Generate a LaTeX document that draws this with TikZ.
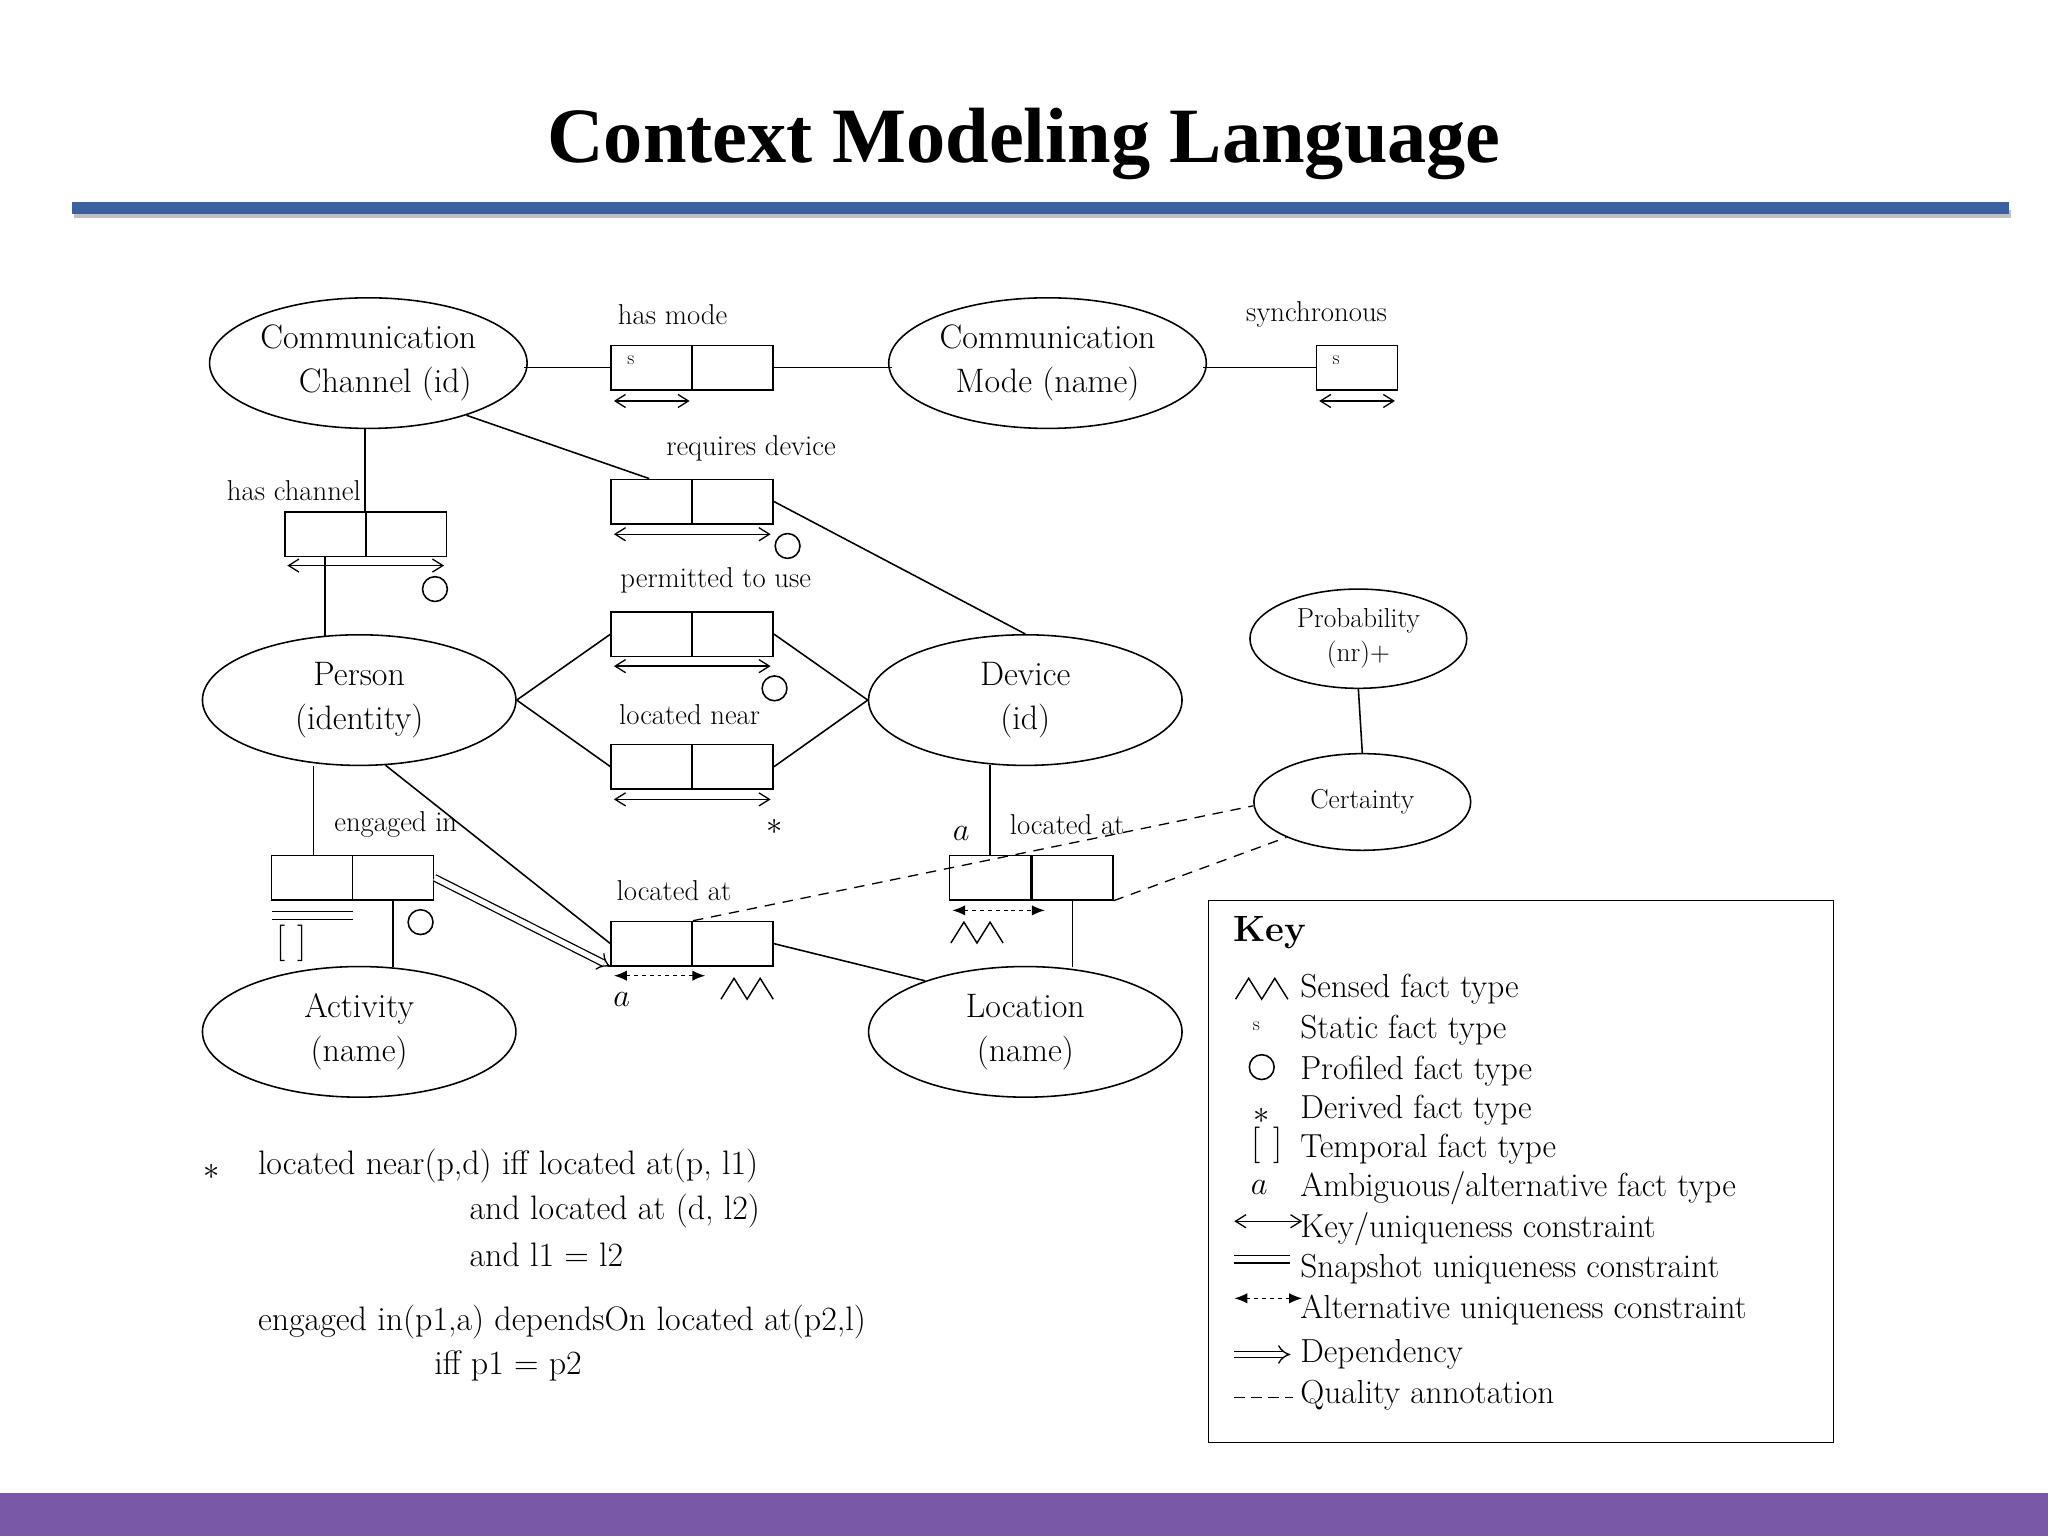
\documentclass[tikz,border=0pt]{standalone}
\usepackage{fontspec}
\newfontfamily\titlefont{Liberation Serif}
\usetikzlibrary{arrows.meta,calc,shapes.geometric}
\definecolor{barblue}{HTML}{3A62A0}
\definecolor{barpurple}{HTML}{7A58A8}
\begin{document}
\begin{tikzpicture}[x=1pt,y=-1pt,
  ell/.style={ellipse,draw,line width=1.2pt,minimum width=240pt,minimum height=100pt,align=center,font=\fontsize{26}{34}\selectfont},
  cell/.style={draw,line width=1.2pt,minimum width=62pt,minimum height=34pt,inner sep=0pt},
  lab/.style={font=\fontsize{22}{24}\selectfont},
  ln/.style={line width=1.2pt},
  key/.style={{Straight Barb[length=8pt,width=10pt]}-{Straight Barb[length=8pt,width=10pt]},line width=1pt},
  alt/.style={{Latex[length=10pt,width=8pt]}-{Latex[length=10pt,width=8pt]},line width=1.2pt,dash pattern=on 3pt off 3pt},
  prof/.style={circle,draw,line width=1.2pt,minimum size=19pt,inner sep=0pt},
  qa/.style={line width=1pt,dash pattern=on 8pt off 6pt},
  sensed/.pic={\draw[line width=1.1pt] (-20,8)--(-10,-8)--(0,8)--(10,-8)--(20,8);},
  kt/.style={anchor=west,font=\fontsize{25.5}{28}\selectfont}]
\useasboundingbox (0,0) rectangle (1568,1176);
\fill[white] (0,0) rectangle (1568,1176);
% title
\node (title) at (784,110) {\titlefont\bfseries\fontsize{60}{70}\selectfont Context Modeling Language};
\fill[gray!50] (57,161) rectangle (1540,167);
\fill[barblue] (55,155) rectangle (1538,164);
\fill[barpurple] (0,1143) rectangle (1568,1176);
% ellipses
\node[ell] (cc) at (282,278) {Communication\\ \quad Channel (id)};
\node[ell] (cm) at (802,278) {Communication\\ Mode (name)};
\node[ell] (pe) at (275,536) {Person\\ (identity)};
\node[ell] (de) at (785,536) {Device\\ (id)};
\node[ell] (ac) at (275,790) {Activity\\ (name)};
\node[ell] (lo) at (785,790) {Location\\ (name)};
\node[ell,minimum width=166pt,minimum height=76pt,font=\fontsize{21}{26}\selectfont] (pr) at (1040,489) {Probability\\ (nr)+};
\node[ell,minimum width=166pt,minimum height=74pt,font=\fontsize{21}{26}\selectfont] (ce) at (1043,614) {Certainty};
% has mode
\node[cell] (hm1) at (499,281.5) {};
\node[cell] (hm2) at (561,281.5) {};
\node[lab] (hml) at (515,241) {has mode};
\node[lab,font=\fontsize{15}{18}\selectfont] (hms) at (483,276) {s};
\coordinate (hma) at (470,307); \coordinate (hmb) at (528,307);
\draw[key] (hma) -- (hmb);
% synchronous
\node[cell] (sy) at (1039,281.5) {};
\node[lab] (syl) at (1008,241) {synchronous};
\node[lab,font=\fontsize{15}{18}\selectfont] (sys) at (1023,276) {s};
\coordinate (sya) at (1010,307); \coordinate (syb) at (1068,307);
\draw[key] (sya) -- (syb);
% requires device
\node[cell] (rd1) at (499,384) {};
\node[cell] (rd2) at (561,384) {};
\node[lab] (rdl) at (575,343) {requires device};
\coordinate (rda) at (470,409); \coordinate (rdb) at (590,409);
\draw[key] (rda) -- (rdb);
\node[prof] (rdc) at (603,418) {};
% has channel
\node[cell] (hc1) at (249,409) {};
\node[cell] (hc2) at (311,409) {};
\node[lab] (hcl) at (225,376) {has channel};
\coordinate (hca) at (220,433); \coordinate (hcb) at (340,433);
\draw[key] (hca) -- (hcb);
\node[prof] (hcc) at (333,451) {};
% permitted to use
\node[cell] (pu1) at (499,485.5) {};
\node[cell] (pu2) at (561,485.5) {};
\node[lab] (pul) at (548,444) {permitted to use};
\coordinate (pua) at (470,510); \coordinate (pub) at (590,510);
\draw[key] (pua) -- (pub);
\node[prof] (puc) at (593,527) {};
% located near
\node[cell] (ln1) at (499,587) {};
\node[cell] (ln2) at (561,587) {};
\node[lab] (lnl) at (528,547) {located near};
\coordinate (lna) at (470,612); \coordinate (lnb) at (590,612);
\draw[key] (lna) -- (lnb);
\node[font=\fontsize{36}{36}\selectfont] (lns) at (593,633) {$\ast$};
% engaged in
\node[cell] (ei1) at (239,672) {};
\node[cell] (ei2) at (301,672) {};
\node[lab] (eil) at (303,631) {engaged in};
\coordinate (eia) at (208,698); \coordinate (eib) at (270,698);
\coordinate (eic) at (208,704); \coordinate (eid) at (270,704);
\draw[line width=1pt] (eia) -- (eib) (eic) -- (eid);
\node[font=\fontsize{28}{28}\selectfont] (eit) at (223,722) {[\,\,]};
\node[prof] (eio) at (322,706) {};
% located at (person)
\node[cell] (lp1) at (499,722.5) {};
\node[cell] (lp2) at (561,722.5) {};
\node[lab] (lpl) at (516,682) {located at};
\coordinate (lpa) at (470,747); \coordinate (lpb) at (540,747);
\draw[alt] (lpa) -- (lpb);
\node[font=\fontsize{28}{28}\selectfont] (lpx) at (476,765) {$a$};
\pic at (572,757) {sensed};
% located at (device)
\node[cell] (ld1) at (758,672) {};
\node[cell] (ld2) at (821,672) {};
\node[lab] (ldl) at (817,631) {located at};
\coordinate (lda) at (729,697); \coordinate (ldb) at (800,697);
\draw[alt] (lda) -- (ldb);
\node[font=\fontsize{28}{28}\selectfont] (ldx) at (736,638) {$a$};
\pic at (748,714) {sensed};
% connectors
\draw[ln] (hm1.west) -- ++(-66,0);
\draw[ln] (hm2.east) -- ++(90,0);
\draw[ln] (sy.west) -- ++(-86,0);
\draw[ln] (cc.-28) -- ([xshift=-2pt]rd1.north);
\draw[ln] (rd2.east) -- (de.north);
\draw[ln] (hc2.north west) -- ++(0,-64);
\draw[ln] (hc1.south) -- ++(0,61);
\draw[ln] (pe.east) -- (pu1.west);
\draw[ln] (pe.east) -- (ln1.west);
\draw[ln] (pu2.east) -- (de.west);
\draw[ln] (ln2.east) -- (de.west);
\draw[ln] (ei1.north) ++(1,0) -- ++(0,-68);
\draw[ln] (ei2.south) -- ++(0,51);
\draw[ln] (pe.-68) -- (lp1.west);
\draw[line width=1pt,double,double distance=4pt,-{Implies}] (ei2.east) -- (lp1.south west);
\draw[ln] (lp2.east) -- (lo.153);
\draw[ln] (ld1.north) -- ++(0,-69);
\draw[ln] (ld2.south) -- ++(0,51);
\draw[ln] (pr.south) -- (ce.north);
\draw[qa] (lp1.north east) -- (ce.182);
\draw[qa] (ld2.south east) -- (ce.205);
% footnote
\node[anchor=west,font=\fontsize{36}{36}\selectfont] (fs) at (152,897) {$\ast$};
\node[kt,font=\fontsize{26}{28}\selectfont] (f1) at (194,893) {located near(p,d) iff located at(p, l1)};
\node[kt,font=\fontsize{26}{28}\selectfont] (f2) at (356,927) {and located at (d, l2)};
\node[kt,font=\fontsize{26}{28}\selectfont] (f3) at (356,961) {and l1 = l2};
\node[kt,font=\fontsize{26}{28}\selectfont] (f4) at (194,1012) {engaged in(p1,a) dependsOn located at(p2,l)};
\node[kt,font=\fontsize{26}{28}\selectfont] (f5) at (329,1046) {iff p1 = p2};
% key
\node[draw,line width=1pt,minimum width=478pt,minimum height=415pt,anchor=north west,inner sep=0pt] (kb) at (925,689) {};
\node[anchor=west,font=\fontsize{28}{30}\selectfont\bfseries] (kh) at (941,714) {Key};
\pic at (966,757) {sensed};
\node[kt] (k1) at (992,757) {Sensed fact type};
\node[font=\fontsize{15}{18}\selectfont] (k2s) at (962,786) {s};
\node[kt] (k2) at (992,789) {Static fact type};
\node[prof] (k3s) at (966,817) {};
\node[kt] (k3) at (992,820) {Profiled fact type};
\node[font=\fontsize{36}{36}\selectfont] (k4s) at (966,854) {$\ast$};
\node[kt] (k4) at (992,850) {Derived fact type};
\node[font=\fontsize{28}{28}\selectfont] (k5s) at (970,877) {[\,\,]};
\node[kt] (k5) at (992,880) {Temporal fact type};
\node[font=\fontsize{28}{28}\selectfont] (k6s) at (964,909) {$a$};
\node[kt] (k6) at (992,910) {Ambiguous/alternative fact type};
\coordinate (k7a) at (945,935); \coordinate (k7b) at (997,935);
\draw[key] (k7a) -- (k7b);
\node[kt] (k7) at (992,941) {Key/uniqueness constraint};
\coordinate (k8a) at (945,961); \coordinate (k8b) at (988,961);
\coordinate (k8c) at (945,967); \coordinate (k8d) at (988,967);
\draw[line width=1pt] (k8a) -- (k8b) (k8c) -- (k8d);
\node[kt] (k8) at (992,972) {Snapshot uniqueness constraint};
\coordinate (k9a) at (945,994); \coordinate (k9b) at (997,994);
\draw[alt] (k9a) -- (k9b);
\node[kt] (k9) at (992,1003) {Alternative uniqueness constraint};
\coordinate (k10a) at (945,1037); \coordinate (k10b) at (988,1037);
\draw[line width=1pt,double,double distance=4pt,-{Implies}] (k10a) -- (k10b);
\node[kt] (k10) at (992,1037) {Dependency};
\coordinate (k11a) at (945,1070); \coordinate (k11b) at (990,1070);
\draw[qa,dash pattern=on 8pt off 5pt] (k11a) -- (k11b);
\node[kt] (k11) at (992,1068) {Quality annotation};
\end{tikzpicture}
\end{document}
